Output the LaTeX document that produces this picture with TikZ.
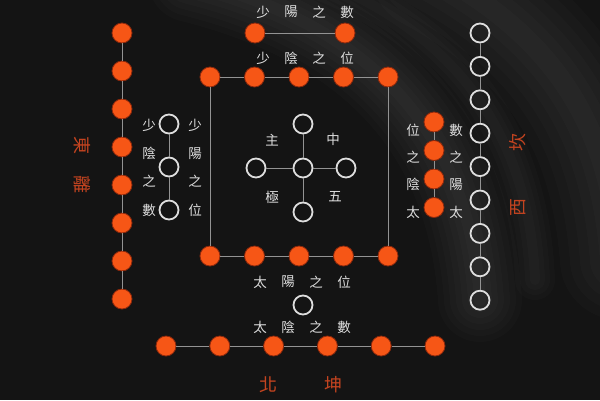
\documentclass[tikz,border=0pt]{standalone}
\usepackage{fontspec}
\setmainfont{Noto Sans CJK TC}
\usepackage{tikz}
\usepackage{xcolor}
\definecolor{dotorange}{RGB}{246,86,22}
\definecolor{dotedge}{RGB}{140,40,12}
\definecolor{inkred}{RGB}{196,68,32}
\definecolor{chalk}{RGB}{222,222,222}
\definecolor{board}{RGB}{20,20,20}

\begin{document}
\begin{tikzpicture}[x=1pt,y=-1pt,
  odot/.style={circle,fill=dotorange,draw=dotedge,line width=0.8pt,minimum size=20pt,inner sep=0pt},
  wdot/.style={circle,draw=chalk,line width=1.8pt,minimum size=19pt,inner sep=0pt},
  link/.style={draw=gray!85,line width=0.9pt},
  txt/.style={text=chalk,font=\fontsize{13.5}{13.5}\selectfont,inner sep=0pt},
  big/.style={text=inkred,font=\fontsize{18}{18}\selectfont,inner sep=0pt},
  sheen/.style={white,opacity=0.016,line cap=round}]
%%%BACKGROUND
\useasboundingbox (0,0) rectangle (600,400);
\fill[board] (0,0) rectangle (600,400);
\begin{scope}
\clip (0,0) rectangle (600,400);
\foreach \w in {12,24,36,48,60,72,84}
  \draw[sheen,line width=\w pt] (190,-20) .. controls (390,30) and (470,150) .. (480,300);
\foreach \w in {20,40,60,80,100,120}
  \draw[sheen,line width=\w pt] (430,-30) .. controls (560,40) and (610,130) .. (620,260);
\foreach \w in {10,20,30,40}
  \draw[sheen,line width=\w pt] (320,-20) .. controls (470,40) and (530,150) .. (535,280);
\end{scope}
%%%DOTS
\node[odot] (tp1) at (255,33) {};
\node[odot] (tp2) at (345,33) {};
\foreach \i in {1,...,5} {
  \node[odot] (sq\i) at (210+44.5*\i-44.5,77) {};
  \node[odot] (sb\i) at (210+44.5*\i-44.5,256) {};
}
\foreach \i in {1,...,8}
  \node[odot] (e\i) at (122,33+38*\i-38) {};
\foreach \i in {1,...,9}
  \node[wdot] (w\i) at (480,33+33.4*\i-33.4) {};
\foreach \i in {1,...,3}
  \node[wdot] (el\i) at (169,124+43*\i-43) {};
\foreach \i in {1,...,4}
  \node[odot] (wl\i) at (434,122+28.5*\i-28.5) {};
\foreach \i in {1,...,6}
  \node[odot] (n\i) at (166+53.8*\i-53.8,346) {};
\node[wdot] (one) at (303,305) {};
%%%CENTRE
\node[wdot] (c0) at (303,168) {};
\node[wdot] (c1) at (303,124) {};
\node[wdot] (c2) at (256,168) {};
\node[wdot] (c3) at (346,168) {};
\node[wdot] (c4) at (303,212) {};
%%%LINKS
\draw[link] (tp1) -- (tp2);
\foreach \i [evaluate=\i as \j using int(\i-1)] in {2,...,5} {
  \draw[link] (sq\j) -- (sq\i);
  \draw[link] (sb\j) -- (sb\i);
}
\draw[link] (sq1) -- (sb1);
\draw[link] (sq5) -- (sb5);
\foreach \i [evaluate=\i as \j using int(\i-1)] in {2,...,8}
  \draw[link] (e\j) -- (e\i);
\foreach \i [evaluate=\i as \j using int(\i-1)] in {2,...,9}
  \draw[link] (w\j) -- (w\i);
\foreach \i [evaluate=\i as \j using int(\i-1)] in {2,...,3}
  \draw[link] (el\j) -- (el\i);
\foreach \i [evaluate=\i as \j using int(\i-1)] in {2,...,4}
  \draw[link] (wl\j) -- (wl\i);
\foreach \i [evaluate=\i as \j using int(\i-1)] in {2,...,6}
  \draw[link] (n\j) -- (n\i);
\foreach \i in {1,...,4}
  \draw[link] (c0) -- (c\i);
%%%LABELS
\foreach \c [count=\i] in {少,陽,之,數}
  \node[txt] (ta\i) at (263+28*\i-28,12) {\c};
\foreach \c [count=\i] in {少,陰,之,位}
  \node[txt] (tb\i) at (263+28*\i-28,58) {\c};
\foreach \c [count=\i] in {太,陽,之,位}
  \node[txt] (ba\i) at (260+28*\i-28,282) {\c};
\foreach \c [count=\i] in {太,陰,之,數}
  \node[txt] (bb\i) at (260+28*\i-28,327) {\c};
\foreach \c [count=\i] in {少,陰,之,數}
  \node[txt] (la\i) at (149,125+28.3*\i-28.3) {\c};
\foreach \c [count=\i] in {少,陽,之,位}
  \node[txt] (lb\i) at (195,125+28.3*\i-28.3) {\c};
\foreach \c [count=\i] in {太,陰,之,位}
  \node[txt] (ra\i) at (413,212-27.3*\i+27.3) {\c};
\foreach \c [count=\i] in {太,陽,之,數}
  \node[txt] (rb\i) at (456,212-27.3*\i+27.3) {\c};
\node[txt] (zhu) at (272,140) {主};
\node[txt] (zhong) at (333,139) {中};
\node[txt] (ji) at (272,197) {極};
\node[txt] (wu) at (335,197) {五};
%%%QUARTERS
\node[big,rotate=-90] (dong) at (82,145) {東};
\node[big,rotate=-90] (li) at (82,184) {離};
\node[big,rotate=90] (kan) at (518,142) {坎};
\node[big,rotate=90] (xi) at (518,207) {西};
\node[big] (bei) at (268,385) {北};
\node[big] (kun) at (333,385) {坤};
\end{tikzpicture}
\end{document}
